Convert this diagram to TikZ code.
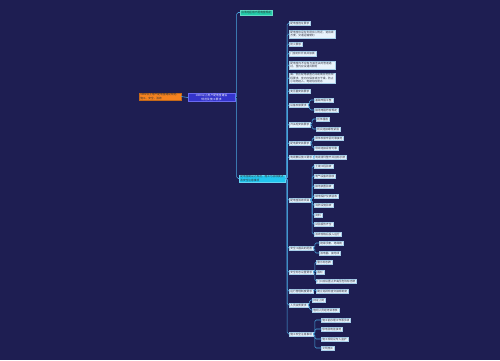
\documentclass[tikz,border=0pt]{standalone}
\usepackage{fontspec}
\setmainfont{Noto Sans CJK SC}
\XeTeXlinebreaklocale "zh"
\XeTeXlinebreakskip=0pt plus 0.1pt
\usetikzlibrary{shadows}
\definecolor{bg}{HTML}{1E1E52}
\definecolor{linec}{HTML}{4AA8E0}
\definecolor{leaffill}{HTML}{E8F3FC}
\definecolor{leafborder}{HTML}{A8CFEA}
\definecolor{leaftext}{HTML}{303040}
\definecolor{rootfill}{HTML}{3434CC}
\definecolor{rootborder}{HTML}{6A6AF0}
\definecolor{orangefill}{HTML}{F5821F}
\definecolor{tealfill}{HTML}{22CCAA}
\definecolor{cyanfill}{HTML}{22C5EE}
\begin{document}
\begin{tikzpicture}[x=1pt,y=-1pt,
  every node/.style={font=\fontsize{2.7}{3.1}\selectfont},
  leaf/.style={draw=leafborder, fill=leaffill, text=leaftext, inner xsep=1.2pt, inner ysep=0.9pt,
    anchor=west, line width=0.3pt, align=left,
    drop shadow={shadow xshift=0.4pt, shadow yshift=-0.5pt, opacity=0.6}},
  rootn/.style={draw=rootborder, fill=rootfill, text=white, inner xsep=1.2pt, inner ysep=1pt, line width=0.4pt, align=center},
  orangen/.style={draw=orangefill!80!black, fill=orangefill, text=black!80, inner xsep=1.2pt, inner ysep=1pt, line width=0.3pt, align=left},
  tealn/.style={draw=tealfill!70!white, fill=tealfill, text=black!80, inner xsep=1.2pt, inner ysep=1pt, anchor=west, line width=0.3pt},
  cyann/.style={draw=cyanfill!70!white, fill=cyanfill, text=black!80, inner xsep=1.2pt, inner ysep=1pt, anchor=west, line width=0.3pt, align=left},
  conn/.style={draw=linec, line width=0.55pt, rounded corners=1.5pt}]
\fill[bg] (0,0) rectangle (500,360);
\useasboundingbox (0,0) rectangle (500,360);

% main nodes
\node[orangen, text width=39.5pt] (org) at (160,96.5) {10KV以上用户配电室建设规范、施工、安全、验收};
\node[rootn, text width=44.5pt] (root) at (211.5,97.5) {10KV以上用户配电室建设\\规范及施工要求};
\node[tealn] (b1) at (240,12.5) {台湾地区用户配电室规定};
\node[cyann, text width=43.5pt] (b2) at (239,178.5) {配电室建设之规范，施工与验收要点及安全注意事项};

% level-2 leaves
\node[leaf] (l1) at (289,23) {配电室选址要求};
\node[leaf, text width=43.5pt] (l2) at (289,34) {配电室应设在负荷中心附近，进出线方便，交通运输便利};
\node[leaf] (l3) at (289,44) {防火要求};
\node[leaf] (l4) at (289,53.5) {门窗向外开启并加锁};
\node[leaf, text width=43.5pt] (l5) at (289,65) {配电室内不应有与其无关的管道通过，室内应设通风照明};
\node[leaf, text width=43.5pt] (l6) at (289,78) {高、低压配电装置之间距离应符合规程要求，室内应保持清洁干燥，防止小动物进入，电缆沟应防水};
\node[leaf] (l7) at (289,91) {变压器安装要求};
\node[leaf] (l8) at (289,105) {设备安装要求};
\node[leaf] (l9) at (289,124.5) {开关柜安装要求};
\node[leaf] (l10) at (289,143) {配电屏安装要求};
\node[leaf] (l11) at (289,157) {电缆敷设施工要求};
\node[leaf] (l12) at (289,200) {配电室验收项目};
\node[leaf] (l13) at (289,248) {安全工器具的配置};
\node[leaf] (l14) at (289,272) {安全标志设置要求};
\node[leaf] (l15) at (289,291) {运行管理制度要求};
\node[leaf] (l16) at (289,305) {人员资质要求};
\node[leaf] (l17) at (289,334) {施工安全注意事项};

% level-3 leaves
\node[leaf] (l8a) at (314,100) {基础牢固平整};
\node[leaf] (l8b) at (314,110) {接地电阻符合规定};
\node[leaf] (l9a) at (316,119) {柜体垂直};
\node[leaf] (l9b) at (316,129) {柜间连接螺栓紧固};
\node[leaf] (l10a) at (314,138) {屏体安装牢固可靠接地};
\node[leaf] (l10b) at (314,148) {母线连接紧密可靠};
\node[leaf] (l11a) at (314,157) {电缆排列整齐并挂标示牌};
\node[leaf] (l12a) at (314,166) {土建工程验收};
\node[leaf] (l12b) at (314,176) {电气设备的验收};
\node[leaf] (l12c) at (314,186) {接地装置验收};
\node[leaf] (l12d) at (314,196) {继电保护仪表验收};
\node[leaf] (l12e) at (314,205) {消防设施验收};
\node[leaf] (l12f) at (314,215) {资料};
\node[leaf] (l12g) at (314,224) {试验报告齐全};
\node[leaf] (l12h) at (314,234) {验收合格后投入运行};
\node[leaf] (l13a) at (319,243) {绝缘手套、绝缘靴};
\node[leaf] (l13b) at (319,253) {验电器、接地线};
\node[leaf] (l14a) at (316,262) {警示标志牌};
\node[leaf] (l14b) at (316,272) {围栏};
\node[leaf] (l14c) at (316,281) {门口应设置止步高压危险标志牌};
\node[leaf] (l15a) at (316,291) {建立巡视检查交接班制度};
\node[leaf] (l16a) at (312,300) {持证上岗};
\node[leaf] (l16b) at (312,310) {值班人员经培训考核};
\node[leaf] (l17a) at (321,320) {施工前办理工作票手续};
\node[leaf] (l17b) at (321,329) {停电验电挂接地};
\node[leaf] (l17c) at (321,339) {施工现场设专人监护};
\node[leaf] (l17d) at (321,348) {文明施工};

% connectors
\draw[conn] (org.east) -- (root.west);
\foreach \c in {b1,b2} \draw[conn] (root.east) -- ++(1.5,0) |- (\c.west);
\foreach \c in {l1,l2,l3,l4,l5,l6,l7,l8,l9,l10,l11,l12,l13,l14,l15,l16,l17}
  \draw[conn] (b2.east) -- ++(2,0) |- (\c.west);
\foreach \p/\c in {l8/l8a,l8/l8b,l9/l9a,l9/l9b,l10/l10a,l10/l10b,l11/l11a,
  l12/l12a,l12/l12b,l12/l12c,l12/l12d,l12/l12e,l12/l12f,l12/l12g,l12/l12h,
  l13/l13a,l13/l13b,l14/l14a,l14/l14b,l14/l14c,l15/l15a,l16/l16a,l16/l16b,
  l17/l17a,l17/l17b,l17/l17c,l17/l17d}
  \draw[conn] (\p.east) -- ++(1.5,0) |- (\c.west);
\end{tikzpicture}
\end{document}
